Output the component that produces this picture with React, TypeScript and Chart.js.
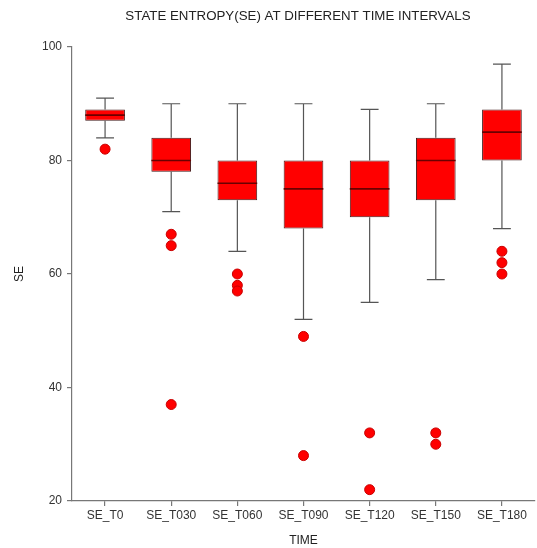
import React, { useEffect, useRef } from "react";
import { Chart, registerables } from "chart.js";

Chart.register(...registerables);

const TITLE = "STATE ENTROPY(SE) AT DIFFERENT TIME INTERVALS";
const categories = ["SE_T0", "SE_T030", "SE_T060", "SE_T090", "SE_T120", "SE_T150", "SE_T180"];
const whiskerLow = [84, 71, 64, 52, 55, 59, 68];
const q1 = [87, 78, 73, 68, 70, 73, 80];
const median = [88, 80, 76, 75, 75, 80, 85];
const q3 = [89, 84, 80, 80, 80, 84, 89];
const whiskerHigh = [91, 90, 90, 90, 89, 90, 97];
const outliers: number[][] = [
  [82],
  [67, 65, 37],
  [60, 58, 57],
  [49, 28],
  [32, 22],
  [32, 30],
  [64, 62, 60],
];
const yTicks = [20, 40, 60, 80, 100];

const FONT = "'Liberation Sans', Arial, sans-serif";

const boxPlugin = {
  id: "boxExtras",
  beforeDatasetsDraw(chart: any) {
    const { ctx, scales } = chart;
    const x = scales.x;
    const y = scales.y;
    const step = x.getPixelForValue(1) - x.getPixelForValue(0);
    const capHalf = step * 0.135;
    ctx.save();
    ctx.strokeStyle = "#555";
    ctx.lineWidth = 1.2;
    categories.forEach((_, i) => {
      const cx = x.getPixelForValue(i);
      const yHi = y.getPixelForValue(whiskerHigh[i]);
      const yLo = y.getPixelForValue(whiskerLow[i]);
      const yQ1 = y.getPixelForValue(q1[i]);
      const yQ3 = y.getPixelForValue(q3[i]);
      ctx.beginPath();
      ctx.moveTo(cx, yQ3);
      ctx.lineTo(cx, yHi);
      ctx.moveTo(cx - capHalf, yHi);
      ctx.lineTo(cx + capHalf, yHi);
      ctx.moveTo(cx, yQ1);
      ctx.lineTo(cx, yLo);
      ctx.moveTo(cx - capHalf, yLo);
      ctx.lineTo(cx + capHalf, yLo);
      ctx.stroke();
    });
    ctx.restore();
  },
  afterDatasetsDraw(chart: any) {
    const { ctx, scales } = chart;
    const x = scales.x;
    const y = scales.y;
    const step = x.getPixelForValue(1) - x.getPixelForValue(0);
    const half = step * 0.3;
    ctx.save();
    ctx.strokeStyle = "#6a0000";
    ctx.lineWidth = 1.6;
    categories.forEach((_, i) => {
      const cx = x.getPixelForValue(i);
      const ym = y.getPixelForValue(median[i]);
      ctx.beginPath();
      ctx.moveTo(cx - half, ym);
      ctx.lineTo(cx + half, ym);
      ctx.stroke();
    });
    ctx.restore();
  },
  afterDraw(chart: any) {
    const { ctx } = chart;
    ctx.save();
    ctx.fillStyle = "#222";
    ctx.font = `13.3px ${FONT}`;
    ctx.textAlign = "center";
    ctx.textBaseline = "middle";
    ctx.fillText(TITLE, 298, 16);
    ctx.restore();
  },
};

export default function App() {
  const ref = useRef<HTMLCanvasElement>(null);
  useEffect(() => {
    if (!ref.current) return;
    const outlierPoints: { x: string; y: number }[] = [];
    outliers.forEach((arr, i) => arr.forEach((v) => outlierPoints.push({ x: categories[i], y: v })));
    const chart = new Chart(ref.current, {
      type: "bar",
      data: {
        labels: categories,
        datasets: [
          {
            type: "bar",
            data: categories.map((_, i) => [q1[i], q3[i]]) as any,
            backgroundColor: "#ff0000",
            borderColor: "rgba(45,0,0,0.9)",
            borderWidth: 1,
            borderSkipped: false,
            barPercentage: 0.6,
            categoryPercentage: 1,
          },
          {
            type: "scatter",
            data: outlierPoints as any,
            backgroundColor: "#ff0000",
            borderColor: "#c80000",
            borderWidth: 1,
            pointRadius: 5,
            showLine: false,
          } as any,
        ],
      },
      options: {
        responsive: false,
        animation: false,
        layout: { padding: { top: 47, left: 0, right: 0, bottom: 0 } },
        plugins: {
          legend: { display: false },
          title: { display: false },
          tooltip: { enabled: false },
        },
        scales: {
          x: {
            type: "category",
            offset: true,
            afterFit: (s: any) => {
              s.height = 47;
            },
            grid: {
              display: true,
              drawOnChartArea: false,
              drawTicks: true,
              tickLength: 5,
              offset: false,
              color: "#777",
              lineWidth: 1.2,
            },
            border: { display: true, color: "#777", width: 1.2 },
            ticks: {
              padding: 2,
              color: "#333",
              font: { family: FONT, size: 12 },
              maxRotation: 0,
              autoSkip: false,
            },
            title: {
              display: true,
              text: "TIME",
              color: "#222",
              font: { family: FONT, size: 12 },
              padding: { top: 0, bottom: 0 },
            },
          },
          y: {
            type: "linear",
            min: 20,
            max: 100,
            afterFit: (s: any) => {
              s.width = 72;
            },
            afterBuildTicks: (s: any) => {
              s.ticks = yTicks.map((v) => ({ value: v }));
            },
            grid: {
              display: true,
              drawOnChartArea: false,
              drawTicks: true,
              tickLength: 5,
              color: "#777",
              lineWidth: 1.2,
            },
            border: { display: true, color: "#777", width: 1.2 },
            ticks: {
              padding: 5,
              color: "#333",
              font: { family: FONT, size: 12 },
            },
            title: {
              display: true,
              text: "SE",
              color: "#222",
              font: { family: FONT, size: 12 },
              padding: { top: 12, bottom: 0 },
            },
          },
        },
      },
      plugins: [boxPlugin],
    });
    return () => chart.destroy();
  }, []);
  return (
    <div
      style={{
        position: "absolute",
        left: 0,
        top: 0,
        width: 537,
        height: 548,
        overflow: "hidden",
        background: "#fff",
      }}
    >
      <canvas ref={ref} width={541} height={548} style={{ display: "block" }} />
    </div>
  );
}
